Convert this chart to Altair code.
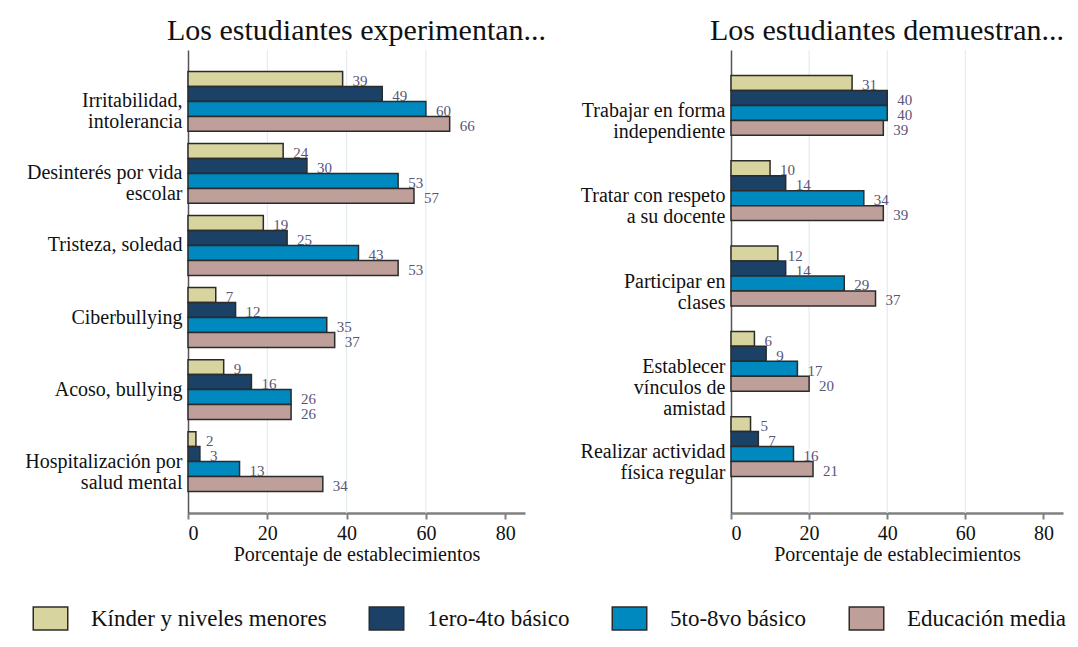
import altair as alt
import pandas as pd

FONT = "Liberation Serif"

groups = ["Kínder y niveles menores", "1ero-4to básico", "5to-8vo básico", "Educación media"]
colors = ["#d8d4a0", "#1b4166", "#0089bf", "#bf9f99"]

left_title = "Los estudiantes experimentan..."
left_cats = [
    "Irritabilidad,\nintolerancia",
    "Desinterés por vida\nescolar",
    "Tristeza, soledad",
    "Ciberbullying",
    "Acoso, bullying",
    "Hospitalización por\nsalud mental",
]
left_kinder = [39, 24, 19, 7, 9, 2]
left_1_4 = [49, 30, 25, 12, 16, 3]
left_5_8 = [60, 53, 43, 35, 26, 13]
left_media = [66, 57, 53, 37, 26, 34]

right_title = "Los estudiantes demuestran..."
right_cats = [
    "Trabajar en forma\nindependiente",
    "Tratar con respeto\na su docente",
    "Participar en\nclases",
    "Establecer\nvínculos de\namistad",
    "Realizar actividad\nfísica regular",
]
right_kinder = [31, 10, 12, 6, 5]
right_1_4 = [40, 14, 14, 9, 7]
right_5_8 = [40, 34, 29, 17, 16]
right_media = [39, 39, 37, 20, 21]

x_ticks = [0, 20, 40, 60, 80]
grid_vals = [20, 40, 60]
x_title = "Porcentaje de establecimientos"


def to_df(cats, series):
    rows = []
    for g, vals in zip(groups, series):
        for c, v in zip(cats, vals):
            rows.append({"cat": c, "grp": g, "val": v})
    return pd.DataFrame(rows)


def panel(cats, series, title, width, title_dx):
    df = to_df(cats, series)
    base = alt.Chart(df)
    y = alt.Y(
        "cat:N",
        sort=cats,
        scale=alt.Scale(paddingInner=0.17, paddingOuter=0.3),
        axis=alt.Axis(
            title=None,
            labelExpr="split(datum.label, '\\n')",
            ticks=False,
            labelFont=FONT,
            labelFontSize=20,
            labelLineHeight=21,
            labelLimit=0,
            labelPadding=6,
            labelColor="#111111",
            domainColor="#555555",
            domainWidth=1.5,
            minExtent=180,
            maxExtent=180,
        ),
    )
    yoff = alt.YOffset("grp:N", sort=groups)
    x = alt.X(
        "val:Q",
        scale=alt.Scale(domain=[0, 85], nice=False),
        axis=alt.Axis(
            values=x_ticks,
            grid=False,
            title=x_title,
            titleFont=FONT,
            titleFontSize=20,
            titleFontWeight="normal",
            titleColor="#111111",
            titlePadding=1,
            labelFont=FONT,
            labelFontSize=20,
            labelColor="#111111",
            labelPadding=4,
            domainColor="#808080",
            domainWidth=2.5,
            tickColor="#808080",
            tickWidth=2,
            tickSize=6,
        ),
    )
    bars = base.mark_bar(stroke="#2b2b2b", strokeWidth=1.5).encode(
        y=y,
        yOffset=yoff,
        x=x,
        color=alt.Color(
            "grp:N",
            sort=groups,
            scale=alt.Scale(domain=groups, range=colors),
            legend=alt.Legend(
                title=None,
                orient="none",
                legendX=-150,
                legendY=556,
                direction="horizontal",
                columns=4,
                symbolType="M-1.5,-1H1.5V1H-1.5Z",
                symbolSize=529,
                symbolStrokeColor="#2b2b2b",
                symbolStrokeWidth=1.5,
                symbolOpacity=1,
                labelFont=FONT,
                labelFontSize=23,
                labelColor="#111111",
                labelOffset=28,
                columnPadding=39,
                labelLimit=0,
            ),
        ),
    )
    text = base.mark_text(
        align="left", baseline="middle", dx=10, dy=2, fontSize=15, color="#5b5575", font=FONT
    ).encode(y=y, yOffset=yoff, x=x, text="val:Q")
    grid = (
        alt.Chart(pd.DataFrame({"g": grid_vals}))
        .mark_rule(color="#e4ecef", strokeWidth=1.2)
        .encode(x=alt.X("g:Q"))
    )
    return alt.layer(grid, bars, text).properties(
        width=width,
        height=463,
        title=alt.TitleParams(
            title, fontSize=30, fontWeight="normal", font=FONT, anchor="middle",
            offset=3, dx=title_dx, color="#111111",
        ),
    )


left = panel(left_cats, [left_kinder, left_1_4, left_5_8, left_media], left_title, 337, 0)
right = panel(right_cats, [right_kinder, right_1_4, right_5_8, right_media], right_title, 332, -10)

chart = (
    alt.hconcat(left, right, spacing=4, padding={"left": 0, "top": 8, "right": 0, "bottom": 0})
    .resolve_scale(y="independent", x="independent")
    .configure(font=FONT)
    .configure_view(stroke=None)
    .configure_axis(labelFont=FONT, titleFont=FONT)
    .configure_legend(labelFont=FONT)
)

chart.save("out.html", embed_options={"renderer": "svg", "actions": False})
